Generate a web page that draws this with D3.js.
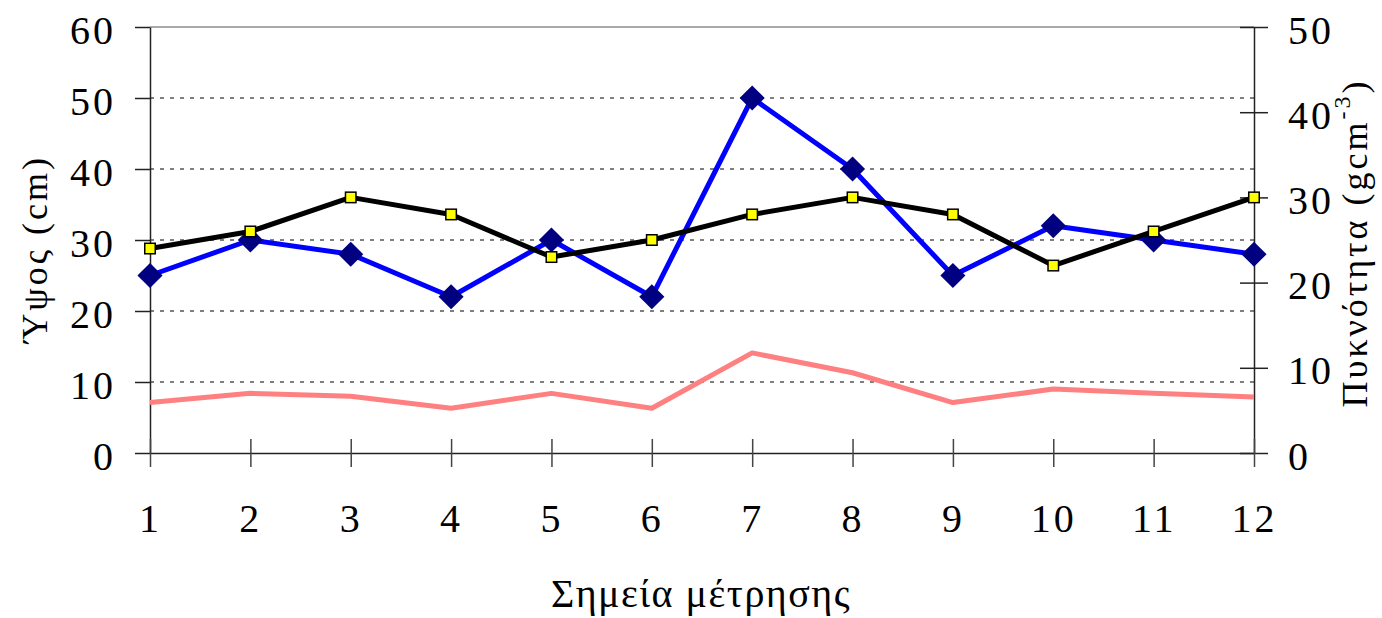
<!DOCTYPE html>
<html>
<head>
<meta charset="utf-8">
<script src="https://cdn.jsdelivr.net/npm/d3@7"></script>
<style>
  html, body { margin: 0; padding: 0; background: #fff; }
  svg { display: block; font-family: "Liberation Serif", "Times New Roman", serif; }
</style>
</head>
<body>
<svg id="chart" width="1382" height="618"></svg>
<script>
// Measurement points
const points = [1, 2, 3, 4, 5, 6, 7, 8, 9, 10, 11, 12];
// Height (cm), left axis
const heightCm = [25, 30, 28, 22, 30, 22, 50, 40, 25, 32, 30, 28];
// Density (g cm^-3), right axis
const density = [24, 26, 30, 28, 23, 25, 28, 30, 28, 22, 26, 30];
// Third series, left axis
const thirdSeries = [7.1, 8.4, 8.0, 6.3, 8.4, 6.3, 14.1, 11.3, 7.1, 9.0, 8.4, 7.9];
// Tick values
const leftTicks = [0, 10, 20, 30, 40, 50, 60];
const rightTicks = [0, 10, 20, 30, 40, 50];

const svg = d3.select("#chart");
const plot = { left: 150, right: 1254, top: 27, bottom: 453 };

const x = d3.scalePoint().domain(points).range([plot.left, plot.right]);
const yL = d3.scaleLinear().domain([0, 60]).range([plot.bottom, plot.top]);
const yR = d3.scaleLinear().domain([0, 50]).range([plot.bottom, plot.top]);

const axisColor = "#222";
const fontSize = 40;
const numSpacing = 3;

function styleTickText(sel) {
  sel.attr("font-size", fontSize)
    .attr("font-family", "Liberation Serif")
    .attr("letter-spacing", numSpacing)
    .attr("fill", "#000");
}

// Dashed horizontal gridlines
svg.append("g")
  .selectAll("line")
  .data(leftTicks.filter(d => d > 0 && d < 60))
  .join("line")
  .attr("x1", plot.left).attr("x2", plot.right)
  .attr("y1", d => yL(d)).attr("y2", d => yL(d))
  .attr("stroke", "#000").attr("stroke-width", 1)
  .attr("stroke-dasharray", "4,6");

// Top border
svg.append("line")
  .attr("x1", plot.left).attr("x2", plot.right)
  .attr("y1", plot.top).attr("y2", plot.top)
  .attr("stroke", "#8c8c8c").attr("stroke-width", 1.5);

// Left axis
const gL = svg.append("g")
  .attr("transform", `translate(${plot.left},0)`)
  .call(d3.axisLeft(yL).tickValues(leftTicks).tickSize(15).tickPadding(19).tickSizeOuter(0));
gL.select(".domain").attr("stroke", axisColor).attr("stroke-width", 1.5);
gL.selectAll(".tick line").attr("stroke", axisColor).attr("stroke-width", 1.5);
gL.selectAll(".tick text").call(styleTickText).attr("dy", "0.4em");

// Right axis (ticks cross the axis line)
const gR = svg.append("g")
  .attr("transform", `translate(${plot.right},0)`)
  .call(d3.axisRight(yR).tickValues(rightTicks).tickSize(14).tickPadding(20).tickSizeOuter(0));
gR.select(".domain").attr("stroke", axisColor).attr("stroke-width", 1.5);
gR.selectAll(".tick line").attr("x1", -14).attr("stroke", axisColor).attr("stroke-width", 1.5);
gR.selectAll(".tick text").call(styleTickText).attr("dy", "0.4em");

// Bottom axis (ticks cross the axis line)
const gB = svg.append("g")
  .attr("transform", `translate(0,${plot.bottom})`)
  .call(d3.axisBottom(x).tickSize(14).tickPadding(37).tickSizeOuter(0));
gB.select(".domain").attr("stroke", axisColor).attr("stroke-width", 1.5);
gB.selectAll(".tick line").attr("y1", -14).attr("stroke", "#444").attr("stroke-width", 1.5);
gB.selectAll(".tick text").call(styleTickText);

// Series lines
const lineL = d3.line().x((d, i) => x(points[i])).y(d => yL(d));
const lineR = d3.line().x((d, i) => x(points[i])).y(d => yR(d));

svg.append("path").datum(thirdSeries)
  .attr("d", lineL).attr("fill", "none")
  .attr("stroke", "#ff8080").attr("stroke-width", 5).attr("stroke-linejoin", "round");

svg.append("path").datum(heightCm)
  .attr("d", lineL).attr("fill", "none")
  .attr("stroke", "#0000ff").attr("stroke-width", 5).attr("stroke-linejoin", "round");

svg.append("g").selectAll("path")
  .data(heightCm)
  .join("path")
  .attr("transform", (d, i) => `translate(${x(points[i])},${yL(d)}) rotate(45)`)
  .attr("d", d3.symbol(d3.symbolSquare, 315)())
  .attr("fill", "#000080");

svg.append("path").datum(density)
  .attr("d", lineR).attr("fill", "none")
  .attr("stroke", "#000").attr("stroke-width", 5).attr("stroke-linejoin", "round");

svg.append("g").selectAll("rect")
  .data(density)
  .join("rect")
  .attr("x", (d, i) => x(points[i]) - 5.25)
  .attr("y", d => yR(d) - 5.25)
  .attr("width", 10.5).attr("height", 10.5)
  .attr("fill", "#ffff00").attr("stroke", "#000").attr("stroke-width", 1.5);

// Axis titles
svg.append("text")
  .attr("transform", "translate(47,249) rotate(-90)")
  .attr("text-anchor", "middle")
  .attr("font-size", 36)
  .attr("letter-spacing", 3)
  .text("Ύψος (cm)");

const rt = svg.append("text")
  .attr("transform", "translate(1367,243) rotate(-90)")
  .attr("text-anchor", "middle")
  .attr("font-size", 36)
  .attr("letter-spacing", 3);
rt.append("tspan").text("Πυκνότητα (gcm");
rt.append("tspan").attr("font-size", 24).attr("dy", -17).text("-3");
rt.append("tspan").attr("dy", 17).text(")");

svg.append("text")
  .attr("x", 701).attr("y", 607)
  .attr("text-anchor", "middle")
  .attr("font-size", fontSize)
  .attr("letter-spacing", 1.5)
  .text("Σημεία μέτρησης");
</script>
</body>
</html>
